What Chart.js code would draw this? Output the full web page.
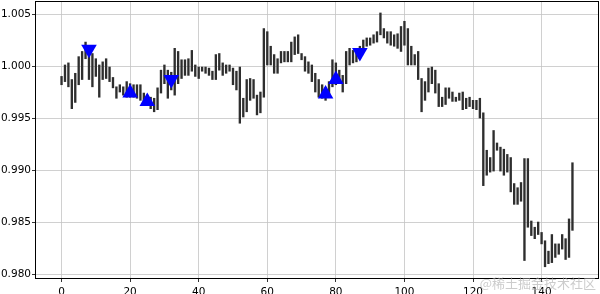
<!DOCTYPE html>
<html>
<head>
<meta charset="utf-8">
<script src="https://cdn.jsdelivr.net/npm/chart.js@4.4.1/dist/chart.umd.min.js"></script>
<style>
html, body { margin: 0; padding: 0; background: #fff; }
</style>
</head>
<body>
<canvas id="myChart" width="600" height="294"></canvas>
<script>
// bar ranges (high / low) per step
const highs = [
    0.9990, 1.0001, 1.0003, 0.9987, 0.9993, 1.0009, 1.0014, 1.0023, 1.0015, 1.0012,
    1.0007, 1.0001, 1.0004, 1.0007, 0.9999, 0.9989, 0.9980, 0.9982, 0.9980, 0.9985,
    0.9983, 0.9982, 0.9982, 0.9982, 0.9974, 0.9972, 0.9970, 0.9969, 0.9979, 0.9996,
    1.0001, 0.9996, 0.9994, 1.0017, 1.0014, 1.0006, 1.0006, 1.0007, 1.0015, 1.0001,
    0.9999, 0.9999, 0.9999, 0.9998, 0.9995, 1.0011, 1.0012, 1.0003, 1.0001, 1.0001,
    0.9998, 0.9995, 0.9999, 0.9969, 0.9987, 0.9988, 0.9987, 0.9972, 0.9975, 1.0036,
    1.0033, 1.0019, 1.0011, 1.0007, 1.0014, 1.0014, 1.0014, 1.0023, 1.0028, 1.0030,
    1.0012, 1.0009, 1.0004, 1.0001, 0.9993, 0.9987, 0.9982, 0.9979, 0.9985, 1.0006,
    1.0003, 0.9996, 0.9991, 1.0014, 1.0017, 1.0015, 1.0017, 1.0019, 1.0025, 1.0027,
    1.0027, 1.0030, 1.0033, 1.0051, 1.0036, 1.0033, 1.0033, 1.0030, 1.0031, 1.0038,
    1.0043, 1.0036, 1.0019, 1.0011, 1.0014, 0.9988, 0.9985, 0.9998, 0.9999, 0.9996,
    0.9983, 0.9970, 0.9979, 0.9979, 0.9975, 0.9970, 0.9974, 0.9975, 0.9969, 0.9970,
    0.9967, 0.9967, 0.9969, 0.9955, 0.9919, 0.9912, 0.9938, 0.9926, 0.9922, 0.9920,
    0.9915, 0.9912, 0.9887, 0.9883, 0.9888, 0.9911, 0.9911, 0.9851, 0.9845, 0.9850,
    0.9840, 0.9832, 0.9822, 0.9838, 0.9829, 0.9829, 0.9838, 0.9834, 0.9853, 0.9907
];
const lows = [
    0.9982, 0.9985, 0.9980, 0.9959, 0.9965, 0.9982, 0.9987, 1.0007, 0.9987, 0.9980,
    0.9990, 0.9970, 0.9987, 0.9988, 0.9985, 0.9979, 0.9969, 0.9975, 0.9972, 0.9970,
    0.9970, 0.9970, 0.9969, 0.9967, 0.9964, 0.9962, 0.9959, 0.9956, 0.9958, 0.9974,
    0.9983, 0.9969, 0.9977, 0.9972, 0.9983, 0.9988, 0.9991, 0.9991, 0.9995, 0.9990,
    0.9988, 0.9995, 0.9993, 0.9991, 0.9987, 0.9987, 0.9996, 0.9991, 0.9993, 0.9995,
    0.9982, 0.9977, 0.9945, 0.9951, 0.9956, 0.9967, 0.9969, 0.9953, 0.9955, 0.9970,
    1.0001, 1.0001, 0.9993, 0.9993, 1.0003, 1.0004, 1.0004, 1.0004, 1.0011, 1.0012,
    1.0006, 0.9995, 0.9993, 0.9985, 0.9975, 0.9970, 0.9969, 0.9967, 0.9972, 0.9980,
    0.9982, 0.9983, 0.9975, 0.9983, 1.0001, 1.0003, 1.0004, 1.0007, 1.0015, 1.0019,
    1.0020, 1.0022, 1.0023, 1.0030, 1.0027, 1.0022, 1.0020, 1.0019, 1.0017, 1.0014,
    1.0020, 1.0001, 1.0001, 1.0001, 0.9987, 0.9956, 0.9967, 0.9975, 0.9983, 0.9974,
    0.9961, 0.9961, 0.9963, 0.9969, 0.9966, 0.9966, 0.9967, 0.9958, 0.9959, 0.9961,
    0.9959, 0.9958, 0.9950, 0.9885, 0.9895, 0.9898, 0.9899, 0.9919, 0.9899, 0.9895,
    0.9898, 0.9879, 0.9867, 0.9867, 0.9870, 0.9813, 0.9845, 0.9837, 0.9834, 0.9838,
    0.9829, 0.9807, 0.9810, 0.9811, 0.9816, 0.9819, 0.9824, 0.9814, 0.9816, 0.9842
];

// signal markers
const sellX = [8, 32, 87];
const sellY = [1.0016, 0.9987, 1.0013];
const buyX = [20, 25, 77, 80];
const buyY = [0.9974, 0.9966, 0.9973, 0.9987];

const xTicks = [0, 20, 40, 60, 80, 100, 120, 140];
const yTicks = [0.980, 0.985, 0.990, 0.995, 1.000, 1.005];

const noPadding = () => ({ left: 0, top: 0, right: 0, bottom: 0 });

const frame = {
    id: 'frame',
    afterDatasetsDraw(chart) {
        const a = chart.chartArea;
        const c = chart.ctx;
        c.save();
        c.strokeStyle = '#000';
        c.lineWidth = 1;
        c.strokeRect(Math.round(a.left) - 0.5, Math.round(a.top) + 0.5,
            Math.round(a.right - a.left) + 1, Math.round(a.bottom - a.top));
        c.restore();
    },
    afterDraw(chart) {
        const c = chart.ctx;
        c.save();
        c.font = '13px "Noto Sans CJK SC"';
        c.fillStyle = 'rgba(170,170,170,0.6)';
        c.textAlign = 'right';
        c.textBaseline = 'middle';
        c.fillText('@稀土掘金技术社区', 596, 283);
        c.restore();
    }
};

Chart.defaults.font.family = 'DejaVu Sans';
Chart.defaults.font.size = 10.5;
Chart.defaults.color = '#000';

const ctx = document.getElementById('myChart').getContext('2d');
new Chart(ctx, {
    type: 'bar',
    data: {
        datasets: [
            {
                type: 'bar',
                data: highs.map((h, i) => ({ x: i, y: [lows[i], h] })),
                backgroundColor: '#2e2e2e',
                borderWidth: 0,
                barThickness: 1.7,
                grouped: false,
                order: 2
            },
            {
                type: 'scatter',
                data: sellX.map((x, i) => ({ x: x, y: sellY[i] })),
                pointStyle: 'triangle',
                rotation: 180,
                radius: 9,
                backgroundColor: '#0000ff',
                borderWidth: 0,
                order: 1
            },
            {
                type: 'scatter',
                data: buyX.map((x, i) => ({ x: x, y: buyY[i] })),
                pointStyle: 'triangle',
                radius: 9,
                backgroundColor: '#0000ff',
                borderWidth: 0,
                order: 1
            }
        ]
    },
    options: {
        responsive: false,
        animation: false,
        layout: { autoPadding: false, padding: { top: 1, right: 2, left: 0, bottom: 0 } },
        plugins: {
            legend: { display: false },
            tooltip: { enabled: false }
        },
        scales: {
            x: {
                type: 'linear',
                offset: false,
                min: -7.45,
                max: 156.45,
                afterBuildTicks: s => { s.ticks = xTicks.map(v => ({ value: v })); },
                afterFit: s => { s.height = 16; s.getPadding = noPadding; },
                grid: { offset: false, color: '#c4c4c4', lineWidth: 0.8, tickColor: '#000', tickLength: 4 },
                border: { display: false },
                ticks: { padding: 4, maxRotation: 0 }
            },
            y: {
                min: 0.97962,
                max: 1.00625,
                afterBuildTicks: s => { s.ticks = yTicks.map(v => ({ value: v })); },
                afterFit: s => { s.width = 36; s.getPadding = noPadding; },
                grid: { color: '#c4c4c4', lineWidth: 0.8, tickColor: '#000', tickLength: 4 },
                border: { display: false },
                ticks: { padding: 1, callback: v => v.toFixed(3) }
            }
        }
    },
    plugins: [frame]
});
</script>
</body>
</html>
